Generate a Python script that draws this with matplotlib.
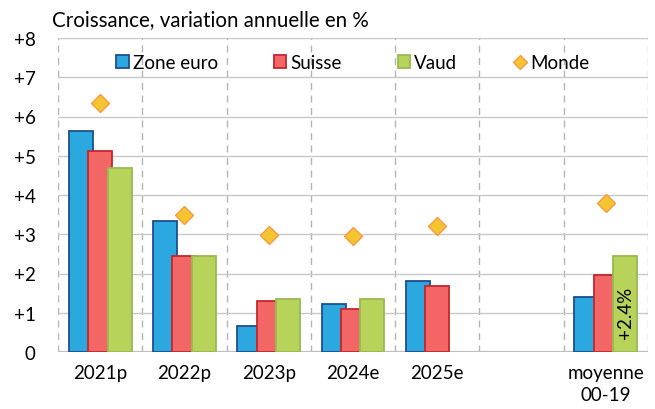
import numpy as np
import matplotlib
matplotlib.use("Agg")
import matplotlib.pyplot as plt

plt.rcParams["font.family"] = ["Lato", "DejaVu Sans"]

categories = ["2021p", "2022p", "2023p", "2024e", "2025e", "", "moyenne\n00-19"]
zone_euro = [5.64, 3.35, 0.66, 1.23, 1.82, np.nan, 1.39]
suisse = [5.11, 2.45, 1.29, 1.09, 1.68, np.nan, 1.96]
vaud = [4.69, 2.45, 1.36, 1.35, np.nan, np.nan, 2.45]
monde = [6.34, 3.49, 2.98, 2.95, 3.20, np.nan, 3.80]
vaud_avg_label = "+2.4%"
yticks = [0, 1, 2, 3, 4, 5, 6, 7, 8]
ylabels = ["0", "+1", "+2", "+3", "+4", "+5", "+6", "+7", "+8"]

FS = 13.5

fig = plt.figure(figsize=(6.55, 4.1), dpi=100)
ax = fig.add_axes([58 / 655, 1 - 353 / 410, 590 / 655, 314 / 410])

x = np.arange(len(categories))
w, step = 0.285, 0.23
series = [
    (zone_euro, "Zone euro", "#2ba8e0", "#1f4e8c"),
    (suisse, "Suisse", "#f26666", "#c3262d"),
    (vaud, "Vaud", "#b7d35a", "#98b953"),
]
handles = []
for i, (vals, lab, fc, ec) in enumerate(series):
    h = ax.bar(x + (i - 1) * step, vals, width=w, color=fc, edgecolor=ec,
               linewidth=1.3, label=lab, zorder=3 + i)
    handles.append(h)
m, = ax.plot(x, monde, ls="none", marker="D", ms=9, mfc="#f5c531", mec="#f79a46",
             mew=1.0, label="Monde", zorder=7)
handles.append(m)

# label inside the Vaud bar for the long-run average (sits in the lower part)
ax.text(x[-1] + step, vaud[-1] * 0.42, vaud_avg_label, rotation=90,
        ha="center", va="center", fontsize=FS, color="black", zorder=8)

ax.set_xlim(-0.5, len(categories) - 0.5)
ax.set_ylim(0, 8)
ax.set_yticks(yticks)
ax.set_yticklabels(ylabels, fontsize=FS)
ax.set_xticks(x)
ax.set_xticklabels(categories, fontsize=FS, linespacing=1.35)
ax.tick_params(length=0, pad=9)
ax.tick_params(axis="y", pad=16)

ax.grid(axis="y", color="#c8c8c8", lw=1.0, zorder=0)
for s in ax.spines.values():
    s.set_visible(False)
ax.axhline(0, color="#bfbfbf", lw=1.6, zorder=2)
for b in np.arange(-0.5, len(categories), 1.0):
    ax.axvline(b, color="#b4b4b4", lw=1.0, ls=(0, (5, 4)), zorder=1)

ax.legend(handles=handles, loc="upper left", bbox_to_anchor=(0.072, 1.0), ncol=4,
          frameon=False, fontsize=FS, handlelength=0.65, handleheight=0.65,
          handletextpad=0.22, columnspacing=3.0, borderaxespad=0.45,
          markerscale=0.75)

fig.text(52 / 655, 1 - 20 / 410, "Croissance, variation annuelle en %",
         fontsize=14.8, va="center", ha="left")

fig.savefig("out.png", dpi=100)
